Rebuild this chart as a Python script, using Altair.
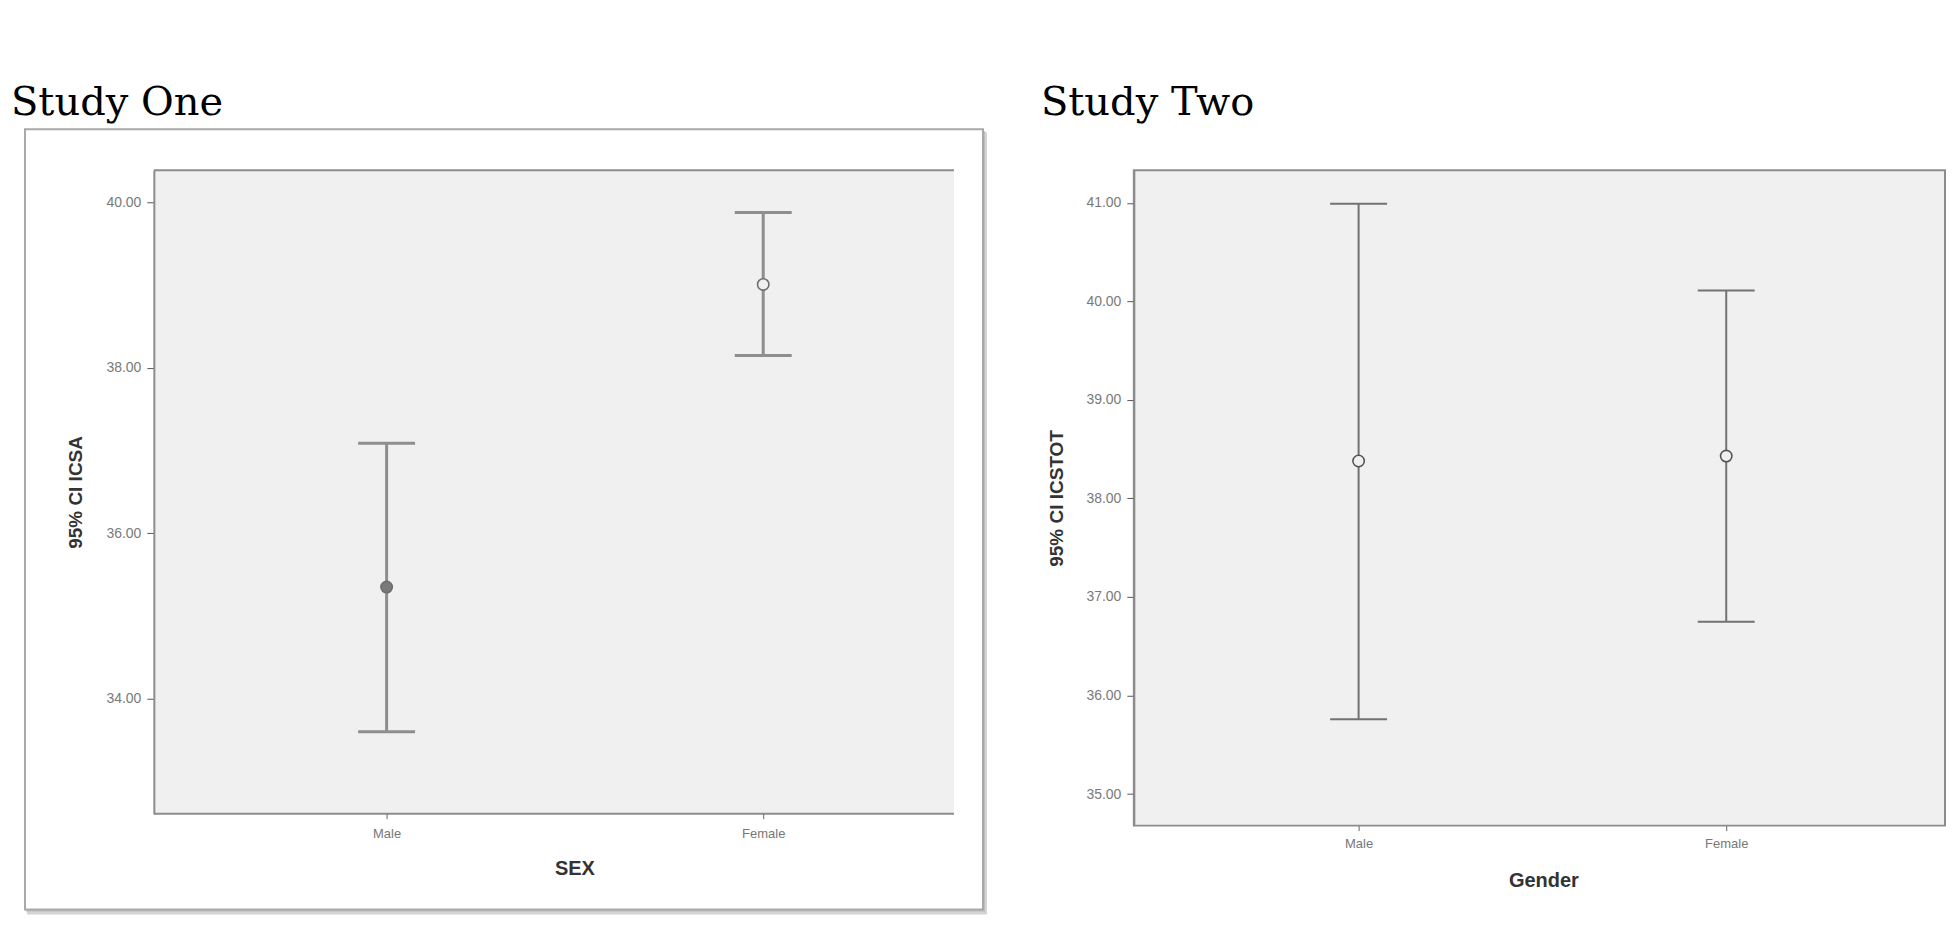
import altair as alt
import pandas as pd

groups = ["Male", "Female"]

# Study One (ICSA)
s1_mean = [35.35, 39.01]
s1_lower = [33.60, 38.15]
s1_upper = [37.09, 39.88]
s1_ticks = [34, 36, 38, 40]
s1_domain = [32.61, 40.39]

# Study Two (ICSTOT)
s2_mean = [38.38, 38.43]
s2_lower = [35.76, 36.75]
s2_upper = [40.99, 40.11]
s2_ticks = [35, 36, 37, 38, 39, 40, 41]
s2_domain = [34.68, 41.33]

df1 = pd.DataFrame({"group": groups, "mean": s1_mean, "lower": s1_lower, "upper": s1_upper})
df2 = pd.DataFrame({"group": groups, "mean": s2_mean, "lower": s2_lower, "upper": s2_upper})
one = pd.DataFrame({"k": [0]})

LABEL_FONT = "Liberation Sans"


def panel(df, W, H, xr, domain, ticks, ytitle, xtitle, xtitle_x, ytitle_x,
          bar_color, bar_w, mark_color, cap_size, study_title, title_dx, filled_male,
          xlabel_pad):
    xenc = alt.X(
        "group:N",
        sort=groups,
        scale=alt.Scale(type="point", domain=groups, range=xr, padding=0),
        axis=alt.Axis(
            title=xtitle, labelAngle=0, labelFontSize=13, labelColor="#777777",
            labelFont=LABEL_FONT, labelPadding=xlabel_pad, tickSize=5, tickColor="#666666",
            domain=False, titleFontSize=20,
            titleFontWeight="bold", titleColor="#333333", titleFont=LABEL_FONT,
            titleX=xtitle_x, titleY=55, titleBaseline="middle", titleAlign="center",
            zindex=1,
        ),
    )

    def yenc(field):
        return alt.Y(
            f"{field}:Q",
            scale=alt.Scale(domain=domain, nice=False, zero=False),
            axis=alt.Axis(
                title=ytitle, values=ticks, format=".2f", grid=False,
                labelFontSize=14, labelColor="#7a7a7a", labelFont=LABEL_FONT,
                labelPadding=6, tickSize=7, tickColor="#555555",
                domainColor="#8c8c8c", domainWidth=2, titleFontSize=19,
                titleFontWeight="bold", titleColor="#333333", titleFont=LABEL_FONT,
                titleX=ytitle_x, titleY=H / 2, titleAngle=270,
                titleBaseline="middle", titleAlign="center", zindex=1,
            ),
        )

    base = alt.Chart(df).encode(x=xenc)
    rule = base.mark_rule(color=bar_color, strokeWidth=bar_w).encode(
        y=yenc("lower"), y2="upper:Q")
    cap_lo = base.mark_tick(color=bar_color, size=cap_size, thickness=bar_w,
                            orient="horizontal", opacity=1).encode(y=yenc("lower"))
    cap_hi = base.mark_tick(color=bar_color, size=cap_size, thickness=bar_w,
                            orient="horizontal", opacity=1).encode(y=yenc("upper"))
    if filled_male:
        fill = alt.condition(alt.datum.group == "Male", alt.value("#7a7a7a"),
                             alt.value("#f0f0f0"))
    else:
        fill = alt.value("#f0f0f0")
    pts = base.mark_point(shape="circle", size=130, strokeWidth=1.6,
                          color=mark_color, opacity=1).encode(y=yenc("mean"), fill=fill)

    title = alt.Chart(one).mark_text(
        font="DejaVu Serif", fontSize=40, align="left",
        baseline="alphabetic", color="black",
    ).encode(x=alt.value(title_dx), y=alt.value(-55), text=alt.value(study_title))
    return rule, cap_lo, cap_hi, pts, title


# ---- Panel one
W1, H1 = 801, 644
r1, lo1, hi1, p1, t1 = panel(df1, W1, H1, [233, 610], s1_domain, s1_ticks,
                             "95% CI ICSA", "SEX", 421, -78,
                             "#8e8e8e", 3, "#6e6e6e", 57, "Study One", -143, True, 9)
shadow = alt.Chart(one).mark_rect(fill="#d4d4d4").encode(
    x=alt.value(-127), x2=alt.value(834), y=alt.value(-38), y2=alt.value(745))
shadow2 = alt.Chart(one).mark_rect(fill="#bdbdbd").encode(
    x=alt.value(-128), x2=alt.value(832), y=alt.value(-39), y2=alt.value(742))
box = alt.Chart(one).mark_rect(fill="white", stroke="#a9a9a9", strokeWidth=2).encode(
    x=alt.value(-129), x2=alt.value(830), y=alt.value(-41), y2=alt.value(740))
bg = alt.Chart(one).mark_rect(fill="#f0f0f0").encode(
    x=alt.value(0), x2=alt.value(W1), y=alt.value(0), y2=alt.value(H1))
topline = alt.Chart(one).mark_rule(color="#8c8c8c", strokeWidth=2).encode(
    x=alt.value(0), x2=alt.value(W1), y=alt.value(0))
bottomline = alt.Chart(one).mark_rule(color="#8c8c8c", strokeWidth=2).encode(
    x=alt.value(0), x2=alt.value(W1), y=alt.value(H1))

left = alt.layer(shadow, shadow2, box, bg, topline, bottomline, t1,
                 r1, lo1, hi1, p1).properties(
    width=W1, height=H1,
    view=alt.ViewBackground(stroke="transparent", fill="transparent"),
)

# ---- Panel two
W2, H2 = 812, 656
r2, lo2, hi2, p2, t2 = panel(df2, W2, H2, [225, 593], s2_domain, s2_ticks,
                             "95% CI ICSTOT", "Gender", 410, -77,
                             "#727272", 2, "#555555", 57, "Study Two", -93, False, 7)
right = alt.layer(t2, r2, lo2, hi2, p2).properties(
    width=W2, height=H2,
    view=alt.ViewBackground(stroke="#8c8c8c", strokeWidth=2, fill="#f0f0f0"),
)

chart = alt.hconcat(left, right).properties(
    spacing=180,
    bounds="flush",
    padding={"left": 2, "top": 74, "right": 0, "bottom": 0},
).configure(background="white")

chart.save("out.html", embed_options={"renderer": "svg", "actions": False})
